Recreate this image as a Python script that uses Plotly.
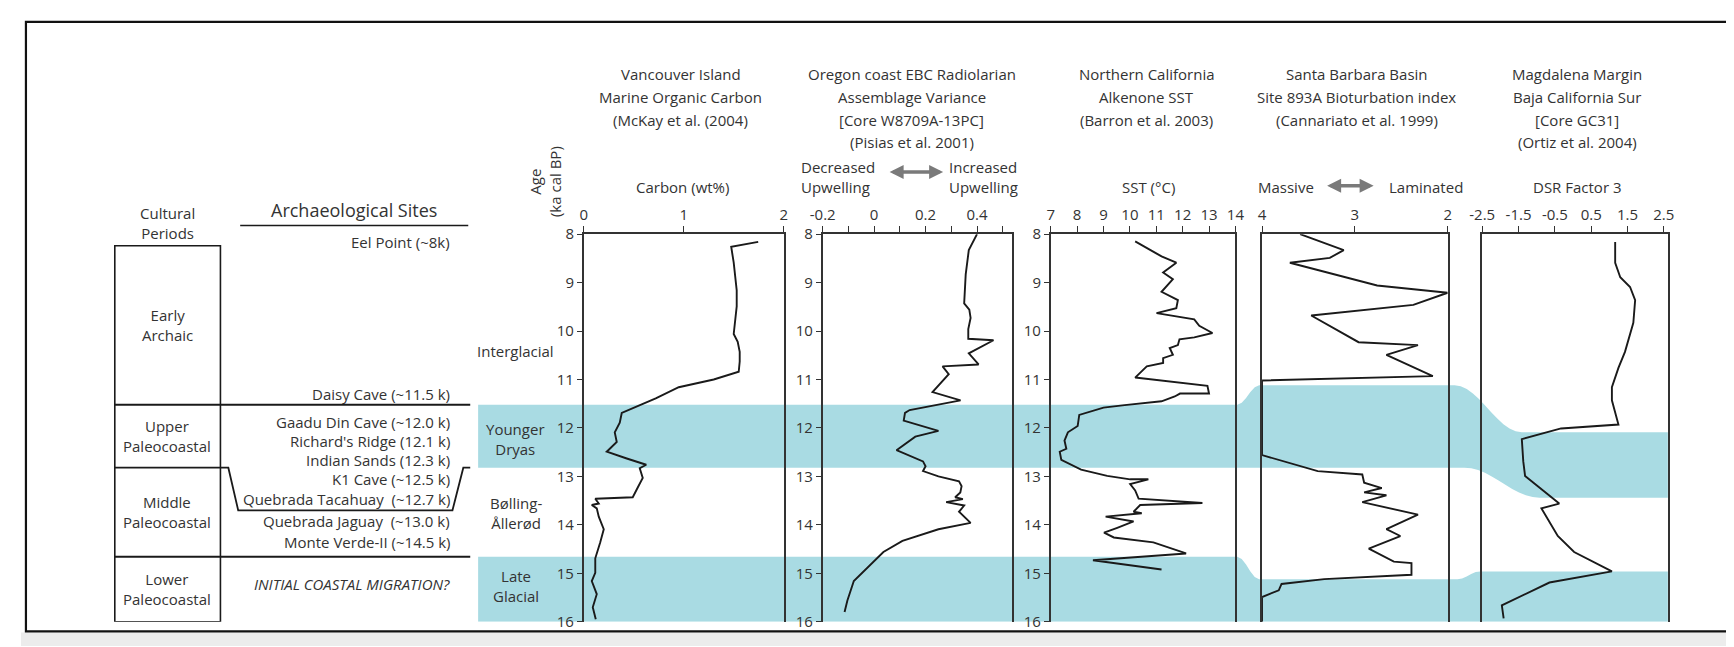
import numpy as np
import plotly.graph_objects as go

# ---------------- data ----------------
carbon_age = [8.16, 8.26, 8.59, 9.16, 9.49, 10.06, 10.22, 10.43, 10.63, 10.84, 11.0, 11.16, 11.39,
              11.59, 11.69, 11.89, 12.09, 12.29, 12.49, 12.63, 12.76, 12.83, 13.03, 13.23, 13.43,
              13.46, 13.56, 13.59, 13.66, 13.83, 14.09, 14.36, 14.69, 14.99, 15.16, 15.43, 15.7, 15.95]
carbon_val = [1.745, 1.475, 1.50, 1.53, 1.53, 1.50, 1.54, 1.56, 1.56, 1.55, 1.30, 0.95, 0.72,
              0.49, 0.38, 0.36, 0.31, 0.33, 0.23, 0.43, 0.625, 0.56, 0.59, 0.54, 0.49,
              0.115, 0.15, 0.08, 0.13, 0.15, 0.20, 0.165, 0.115, 0.115, 0.08, 0.13, 0.09, 0.12]

ebc_age = [8.0, 8.33, 8.83, 9.43, 9.56, 9.73, 9.96, 10.16, 10.19, 10.46, 10.69, 10.73, 10.89,
           11.26, 11.43, 11.63, 11.69, 11.85, 12.06, 12.18, 12.46, 12.69, 12.79, 12.89, 13.0,
           13.1, 13.2, 13.33, 13.43, 13.47, 13.53, 13.6, 13.73, 13.96, 14.09, 14.33, 14.56,
           15.16, 15.56, 15.8]
ebc_val = [0.40, 0.368, 0.356, 0.35, 0.37, 0.375, 0.366, 0.366, 0.464, 0.368, 0.406, 0.266, 0.29,
           0.227, 0.336, 0.138, 0.12, 0.115, 0.25, 0.16, 0.087, 0.19, 0.20, 0.19, 0.25,
           0.33, 0.34, 0.335, 0.315, 0.345, 0.28, 0.35, 0.33, 0.375, 0.25, 0.11, 0.036,
           -0.079, -0.104, -0.115]

sst_age = [8.15, 8.46, 8.59, 8.79, 8.93, 9.19, 9.36, 9.53, 9.63, 9.76, 9.89, 10.04, 10.13, 10.17,
           10.29, 10.35, 10.49, 10.56, 10.66, 10.73, 10.96, 11.13, 11.29, 11.29, 11.35, 11.45,
           11.53, 11.58, 11.73, 11.96, 12.09, 12.26, 12.43, 12.49, 12.66, 12.86, 12.99, 13.06,
           13.06, 13.16, 13.29, 13.46, 13.55, 13.59, 13.73, 13.76, 13.83, 13.93, 14.06, 14.16,
           14.26, 14.36, 14.59, 14.73, 14.92]
sst_val = [10.2, 11.2, 11.76, 11.26, 11.63, 11.2, 11.82, 11.76, 11.01, 12.44, 12.63, 13.13, 12.44,
           11.88, 11.82, 11.51, 11.63, 11.26, 11.26, 10.64, 10.2, 12.94, 13.0, 11.9, 11.7, 11.2,
           9.8, 9.0, 8.08, 8.02, 7.65, 7.52, 7.59, 7.34, 7.40, 8.15, 9.14, 10.01,
           10.70, 10.01, 10.2, 10.33, 12.75, 10.39, 10.14, 10.45, 9.08, 10.14, 9.52, 9.02,
           9.39, 10.89, 12.13, 8.6, 11.2]

bio_age = [8.0, 8.33, 8.49, 8.59, 9.06, 9.21, 9.46, 9.68, 10.23, 10.29, 10.49, 10.93, 11.02,
           12.56, 12.89, 12.96, 13.13, 13.24, 13.33, 13.39, 13.53, 13.79, 14.09, 14.23, 14.49,
           14.76, 14.79, 15.03, 15.12, 15.22, 15.35, 15.49, 16.0]
bio_val = [3.59, 3.12, 3.27, 3.70, 2.76, 2.0, 2.37, 3.47, 2.96, 2.32, 2.66, 2.16, 4.0,
           4.0, 3.40, 2.92, 2.90, 2.71, 2.90, 2.66, 2.92, 2.32, 2.66, 2.51, 2.85,
           2.58, 2.39, 2.39, 3.33, 3.79, 3.82, 4.0, 4.0]

dsr_age = [8.16, 8.59, 8.89, 9.09, 9.36, 9.83, 10.43, 10.76, 11.16, 11.43, 11.93, 12.01, 12.23,
           12.69, 12.99, 13.56, 13.66, 14.23, 14.56, 14.96, 15.19, 15.66, 15.93]
dsr_val = [1.16, 1.16, 1.30, 1.57, 1.71, 1.66, 1.43, 1.25, 1.07, 1.07, 1.25, -0.33, -1.41,
           -1.37, -1.32, -0.38, -0.87, -0.42, 0.03, 1.07, -0.65, -1.96, -1.91]

age_ticks = [8, 9, 10, 11, 12, 13, 14, 15, 16]
carbon_ticks = [0, 1, 2]
ebc_ticks = [-0.2, -0.1, 0, 0.1, 0.2, 0.3, 0.4, 0.5]
ebc_ticktext = ["-0.2", "", "0", "", "0.2", "", "0.4", ""]
sst_ticks = [7, 8, 9, 10, 11, 12, 13, 14]
bio_ticks = [4, 3, 2]
dsr_ticks = [-2.5, -1.5, -0.5, 0.5, 1.5, 2.5]

# climate intervals (ka)
yd_main = (11.52, 12.82)
yd_p4 = (11.12, 12.82)
yd_p5 = (12.09, 13.44)
lg_main_top, lg_p4_top, lg_p5_top, age_bottom = 14.66, 15.12, 14.96, 16.0

period_names = ["Early<br>Archaic", "Upper<br>Paleocoastal", "Middle<br>Paleocoastal", "Lower<br>Paleocoastal"]
period_bounds = [8.24, 11.52, 12.82, 14.66, 16.0]

site_labels = ["Eel Point (~8k)", "Daisy Cave (~11.5 k)", "Gaadu Din Cave (~12.0 k)",
               "Richard's Ridge (12.1 k)", "Indian Sands (12.3 k)", "K1 Cave (~12.5 k)",
               "Quebrada Tacahuay  (~12.7 k)", "Quebrada Jaguay  (~13.0 k)",
               "Monte Verde-II (~14.5 k)"]

# ---------------- layout helpers ----------------
W, H = 1734, 647
def px(x):
    return x / W
def py(y):
    return 1 - y / H

FONT = "Open Sans"
FS = 15
TXT = "#333333"
LINE = "#1a1a1a"
AX = "#333333"
BAND = "#a9dbe3"

panels_px = [(570, 773), (812, 1004), (1043, 1230), (1257, 1445), (1480, 1668)]
ydom = [py(622), py(222)]

fig = go.Figure()
series = [(carbon_val, carbon_age), (ebc_val, ebc_age), (sst_val, sst_age),
          (bio_val, bio_age), (dsr_val, dsr_age)]
for i, (xv, yv) in enumerate(series):
    sfx = "" if i == 0 else str(i + 1)
    fig.add_trace(go.Scatter(x=xv, y=yv, mode="lines", xaxis="x" + sfx, yaxis="y" + sfx,
                             line=dict(color=LINE, width=1.9), showlegend=False,
                             hoverinfo="skip"))

xranges = [[0, 2.005], [-0.2, 0.537], [7, 14], [4, 2], [-2.5, 2.61]]
xtv = [carbon_ticks, ebc_ticks, sst_ticks, bio_ticks, dsr_ticks]
xtt = [[str(v) for v in carbon_ticks], ebc_ticktext, [str(v) for v in sst_ticks],
       [str(v) for v in bio_ticks], [str(v) for v in dsr_ticks]]

layout = dict(width=W, height=H, autosize=False, margin=dict(l=0, r=0, t=0, b=0),
              paper_bgcolor="white", plot_bgcolor="rgba(0,0,0,0)",
              font=dict(family=FONT, color=TXT, size=FS))
for i in range(5):
    sfx = "" if i == 0 else str(i + 1)
    x0, x1 = panels_px[i]
    layout["xaxis" + sfx] = dict(domain=[px(x0), px(x1)], range=xranges[i], side="top",
                                 anchor="y" + sfx, showgrid=False, zeroline=False,
                                 showline=True, linecolor=AX, linewidth=1.6, mirror=False,
                                 ticks="outside", ticklen=6, tickwidth=1.3, tickcolor=AX,
                                 tickmode="array", tickvals=xtv[i], ticktext=xtt[i],
                                 tickfont=dict(size=FS, color=TXT), fixedrange=True)
    show_y = i < 3
    layout["yaxis" + sfx] = dict(domain=ydom, range=[16, 8], anchor="x" + sfx,
                                 showgrid=False, zeroline=False, showline=True, mirror=True,
                                 linecolor=AX, linewidth=1.6,
                                 ticks="outside" if show_y else "", ticklen=5, tickwidth=1.3,
                                 tickcolor=AX, tickmode="array", tickvals=age_ticks,
                                 showticklabels=show_y, tickfont=dict(size=FS, color=TXT),
                                 fixedrange=True)
fig.update_layout(**layout)

shapes = []

def poly(points):
    return "M " + " L ".join(f"{px(x):.5f},{a:.4f}" for x, a in points) + " Z"

def smooth(xa, aa, xb, ab, n=10):
    t = np.linspace(0, 1, n)
    s = (1 - np.cos(np.pi * t)) / 2
    return [(xa + (xb - xa) * ti, aa + (ab - aa) * si) for ti, si in zip(t, s)]

# Younger Dryas band
top = [(463, yd_main[0]), (1232, yd_main[0])] + smooth(1232, yd_main[0], 1254, yd_p4[0], 6) \
      + [(1452, yd_p4[0])] + smooth(1452, yd_p4[0], 1520, yd_p5[0], 12) + [(1668, yd_p5[0])]
bot = [(1668, yd_p5[1])] + smooth(1538, yd_p5[1], 1462, yd_p4[1], 12) + [(463, yd_main[1])]
shapes.append(dict(type="path", xref="paper", yref="y", path=poly(top + bot),
                   fillcolor=BAND, line=dict(width=0), layer="below"))
# Late Glacial band
top = [(463, lg_main_top), (1232, lg_main_top)] + smooth(1232, lg_main_top, 1254, lg_p4_top, 6) \
      + [(1455, lg_p4_top)] + smooth(1455, lg_p4_top, 1478, lg_p5_top, 6) + [(1668, lg_p5_top)]
bot = [(1668, age_bottom), (463, age_bottom)]
shapes.append(dict(type="path", xref="paper", yref="y", path=poly(top + bot),
                   fillcolor=BAND, line=dict(width=0), layer="below"))

# outer frame and bottom strip
shapes.append(dict(type="rect", xref="paper", yref="paper", x0=px(0), x1=px(W), y0=py(647), y1=py(633),
                   fillcolor="#ececec", line=dict(width=0), layer="below"))
shapes.append(dict(type="rect", xref="paper", yref="paper", x0=px(5), x1=px(1730), y0=py(632), y1=py(3),
                   line=dict(color="#111", width=2.2), fillcolor="rgba(0,0,0,0)"))

# cultural periods box
shapes.append(dict(type="rect", xref="paper", yref="y", x0=px(95), x1=px(202),
                   y0=period_bounds[0], y1=period_bounds[-1], line=dict(color=LINE, width=1.6)))
shapes.append(dict(type="line", xref="paper", yref="y", x0=px(95), x1=px(455),
                   y0=period_bounds[1], y1=period_bounds[1], line=dict(color=LINE, width=2)))
shapes.append(dict(type="line", xref="paper", yref="y", x0=px(95), x1=px(455),
                   y0=period_bounds[3], y1=period_bounds[3], line=dict(color=LINE, width=2)))
trap = [(95, period_bounds[2]), (210, period_bounds[2]), (220, 13.70), (437, 13.70),
        (448, period_bounds[2]), (455, period_bounds[2])]
shapes.append(dict(type="path", xref="paper", yref="y",
                   path="M " + " L ".join(f"{px(x):.5f},{a}" for x, a in trap),
                   line=dict(color=LINE, width=1.8)))
# underline of "Archaeological Sites"
shapes.append(dict(type="line", xref="paper", yref="paper", x0=px(222), x1=px(453),
                   y0=py(213), y1=py(213), line=dict(color=LINE, width=1.5)))

fig.update_layout(shapes=shapes)

ann = []
def text(x, y, s, size=FS, anchor="center", italic=False, angle=0):
    ann.append(dict(xref="paper", yref="paper", x=px(x), y=py(y), text=s, showarrow=False,
                    xanchor=anchor, yanchor="middle", textangle=angle,
                    font=dict(family=FONT, size=size, color=TXT,
                              style="italic" if italic else "normal")))

headers = [
    (668, ["Vancouver Island", "Marine Organic Carbon", "(McKay et al. (2004)"]),
    (902, ["Oregon coast EBC Radiolarian", "Assemblage Variance", "[Core W8709A-13PC]",
           "(Pisias et al. 2001)"]),
    (1140, ["Northern California", "Alkenone SST", "(Barron et al. 2003)"]),
    (1353, ["Santa Barbara Basin", "Site 893A Bioturbation index", "(Cannariato et al. 1999)"]),
    (1576, ["Magdalena Margin", "Baja California Sur", "[Core GC31]", "(Ortiz et al. 2004)"]),
]
line_y = [57, 80, 104, 127]
for cx, lines in headers:
    for j, s in enumerate(lines):
        text(cx, line_y[j], s)

text(670, 173, "Carbon (wt%)")
text(1142, 173, "SST (°C)")
text(1576, 173, "DSR Factor 3")
text(788, 153, "Decreased", anchor="left")
text(788, 173, "Upwelling", anchor="left")
text(938, 153, "Increased", anchor="left")
text(938, 173, "Upwelling", anchor="left")
text(1251, 173, "Massive", anchor="left")
text(1384, 173, "Laminated", anchor="left")
text(531, 168, "Age<br>(ka cal BP)", angle=-90)

# arrows
for xe, ye, length in [(934, 158, 55), (1370, 172, 48)]:
    ann.append(dict(xref="paper", yref="paper", x=px(xe), y=py(ye), ax=-length, ay=0,
                    text="", showarrow=True, arrowhead=2, arrowside="end+start",
                    arrowsize=0.8, arrowwidth=3.5, arrowcolor="#7a7a7a"))

# left column
text(148, 210, "Cultural<br>Periods")
text(337, 197, "Archaeological Sites", size=18)
for k, name in enumerate(period_names):
    mid = (period_bounds[k] + period_bounds[k + 1]) / 2
    ann.append(dict(xref="paper", yref="y", x=px(148), y=mid, text=name, showarrow=False,
                    xanchor="center", yanchor="middle",
                    font=dict(family=FONT, size=FS, color=TXT)))
site_y = [230, 387, 416, 435, 455, 475, 495, 518, 540]
for s, yy in zip(site_labels, site_y):
    text(437, yy, s, anchor="right")
text(437, 583, "INITIAL COASTAL MIGRATION?", anchor="right", italic=True)

# climate labels
text(501, 343, "Interglacial")
text(501, 433, "Younger<br>Dryas")
text(501, 510, "Bølling-<br>Ållerød")
text(501, 585, "Late<br>Glacial")

fig.update_layout(annotations=ann)
fig.write_html("out.html")
